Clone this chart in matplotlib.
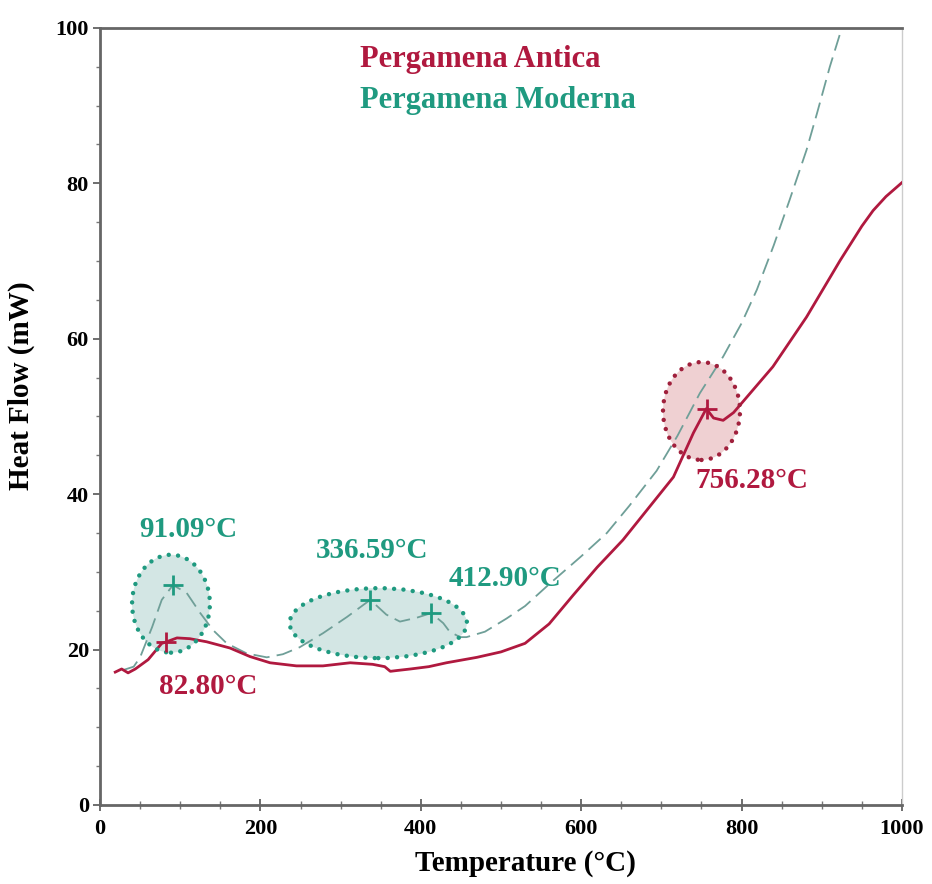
import matplotlib
matplotlib.use("Agg")
import matplotlib.pyplot as plt
from matplotlib.patches import Ellipse
from matplotlib.ticker import MultipleLocator

# --- data ---
antica_t = [19, 27, 35, 44, 60, 77, 83, 96, 112, 133, 162, 187, 212, 245, 278,
            312, 340, 355, 362, 370, 387, 410, 432, 470, 500, 530, 560, 590,
            620, 652, 680, 715, 740, 756, 765, 777, 790, 800, 839, 881, 923,
            950, 964, 980, 1000]
antica_hf = [17.1, 17.5, 17.0, 17.5, 18.7, 20.8, 21.0, 21.5, 21.4, 21.0, 20.2,
             19.1, 18.3, 17.9, 17.9, 18.3, 18.1, 17.8, 17.2, 17.3, 17.5, 17.8,
             18.3, 19.0, 19.7, 20.8, 23.3, 27.0, 30.6, 34.1, 37.7, 42.2, 47.9,
             51.0, 49.8, 49.5, 50.5, 51.7, 56.4, 62.8, 70.1, 74.5, 76.5, 78.3,
             80.1]

moderna_t = [30, 42, 50, 65, 77, 91, 108, 125, 141, 158, 183, 208, 228, 249,
             278, 308, 337, 357, 374, 395, 413, 428, 436, 449, 457, 480, 507,
             530, 561, 600, 632, 660, 694, 720, 748, 777, 800, 819, 840, 860,
             881, 894, 910, 925]
moderna_hf = [17.4, 17.8, 19.0, 22.9, 26.4, 28.3, 27.3, 24.7, 22.5, 20.8, 19.5,
              19.0, 19.4, 20.3, 22.1, 24.2, 26.4, 24.5, 23.6, 24.1, 24.7, 23.4,
              22.3, 21.6, 21.6, 22.3, 24.0, 25.6, 28.5, 32.0, 35.0, 38.5, 43.0,
              47.5, 53.0, 57.7, 62.0, 66.3, 72.0, 77.9, 84.3, 89.0, 95.0, 100.0]

# peaks
antica_peaks_t = [82.80, 756.28]
antica_peaks_hf = [21.0, 51.0]
moderna_peaks_t = [91.09, 336.59, 412.90]
moderna_peaks_hf = [28.3, 26.4, 24.7]

RED = "#b0193f"
GREEN = "#1f9a80"
DASH = "#6f9f98"
SERIF = "Liberation Serif"

fig = plt.figure(figsize=(9.32, 8.84), dpi=100)
ax = fig.add_axes([0.1073, 0.0894, 0.8605, 0.879])

# highlighted regions
regions = [((88.5, 25.9), 97, 12.6, "#d3e6e4", GREEN),
           ((347, 23.4), 221, 9.0, "#d3e6e4", GREEN),
           ((750, 50.7), 96, 12.6, "#efd0d2", "#a0203c")]
for (cx, cy), w, h, fc, ec in regions:
    ax.add_patch(Ellipse((cx, cy), w, h, facecolor=fc, edgecolor="none", zorder=1))
    e = Ellipse((cx, cy), w, h, facecolor="none", edgecolor=ec, lw=3.2,
                linestyle=(0, (0.01, 2.1)), zorder=4)
    e.set_capstyle("round")
    ax.add_patch(e)

ax.plot(moderna_t, moderna_hf, color=DASH, lw=1.3, dashes=(9, 4), zorder=2)
ax.plot(antica_t, antica_hf, color=RED, lw=2.0, zorder=3)

ax.plot(moderna_peaks_t, moderna_peaks_hf, "+", color=GREEN, ms=14, mew=2, zorder=5)
ax.plot(antica_peaks_t, antica_peaks_hf, "+", color=RED, ms=14, mew=2, zorder=5)

txt = dict(family=SERIF, weight="bold", fontsize=21, ha="center", va="center")
ax.text(110, 35.4, "91.09°C", color=GREEN, **txt)
ax.text(339, 32.7, "336.59°C", color=GREEN, **txt)
ax.text(505, 29.2, "412.90°C", color=GREEN, **txt)
ax.text(135, 15.2, "82.80°C", color=RED, **txt)
ax.text(813, 41.7, "756.28°C", color=RED, **txt)

ax.text(0.324, 0.959, "Pergamena Antica", transform=ax.transAxes, color=RED,
        family=SERIF, weight="bold", fontsize=22, va="center")
ax.text(0.324, 0.907, "Pergamena Moderna", transform=ax.transAxes, color=GREEN,
        family=SERIF, weight="bold", fontsize=22, va="center")

ax.set_xlim(0, 1000)
ax.set_ylim(0, 100)
ax.xaxis.set_major_locator(MultipleLocator(200))
ax.xaxis.set_minor_locator(MultipleLocator(50))
ax.yaxis.set_major_locator(MultipleLocator(20))
ax.yaxis.set_minor_locator(MultipleLocator(5))
ax.tick_params(axis="x", which="major", direction="inout", length=8, width=1.2,
               color="#555555", pad=6)
ax.tick_params(axis="x", which="minor", direction="inout", length=6, width=1,
               color="#777777")
ax.tick_params(axis="y", which="major", direction="out", length=5, width=1.2,
               color="#555555", pad=3)
ax.tick_params(axis="y", which="minor", direction="out", length=3, width=1,
               color="#777777")
for lab in ax.get_xticklabels() + ax.get_yticklabels():
    lab.set_family(SERIF)
    lab.set_fontweight("bold")
    lab.set_fontsize(16)

for side in ["left", "bottom", "top"]:
    ax.spines[side].set_color("#666666")
    ax.spines[side].set_linewidth(2)
ax.spines["right"].set_color("#cccccc")
ax.spines["right"].set_linewidth(1)

ax.set_xlabel("Temperature (°C)", family=SERIF, weight="bold", fontsize=21)
ax.set_ylabel("Heat Flow (mW)", family=SERIF, weight="bold", fontsize=21)
ax.xaxis.set_label_coords(0.53, -0.058)
ax.yaxis.set_label_coords(-0.081, 0.54)

fig.savefig("out.png", dpi=100, facecolor="white")
